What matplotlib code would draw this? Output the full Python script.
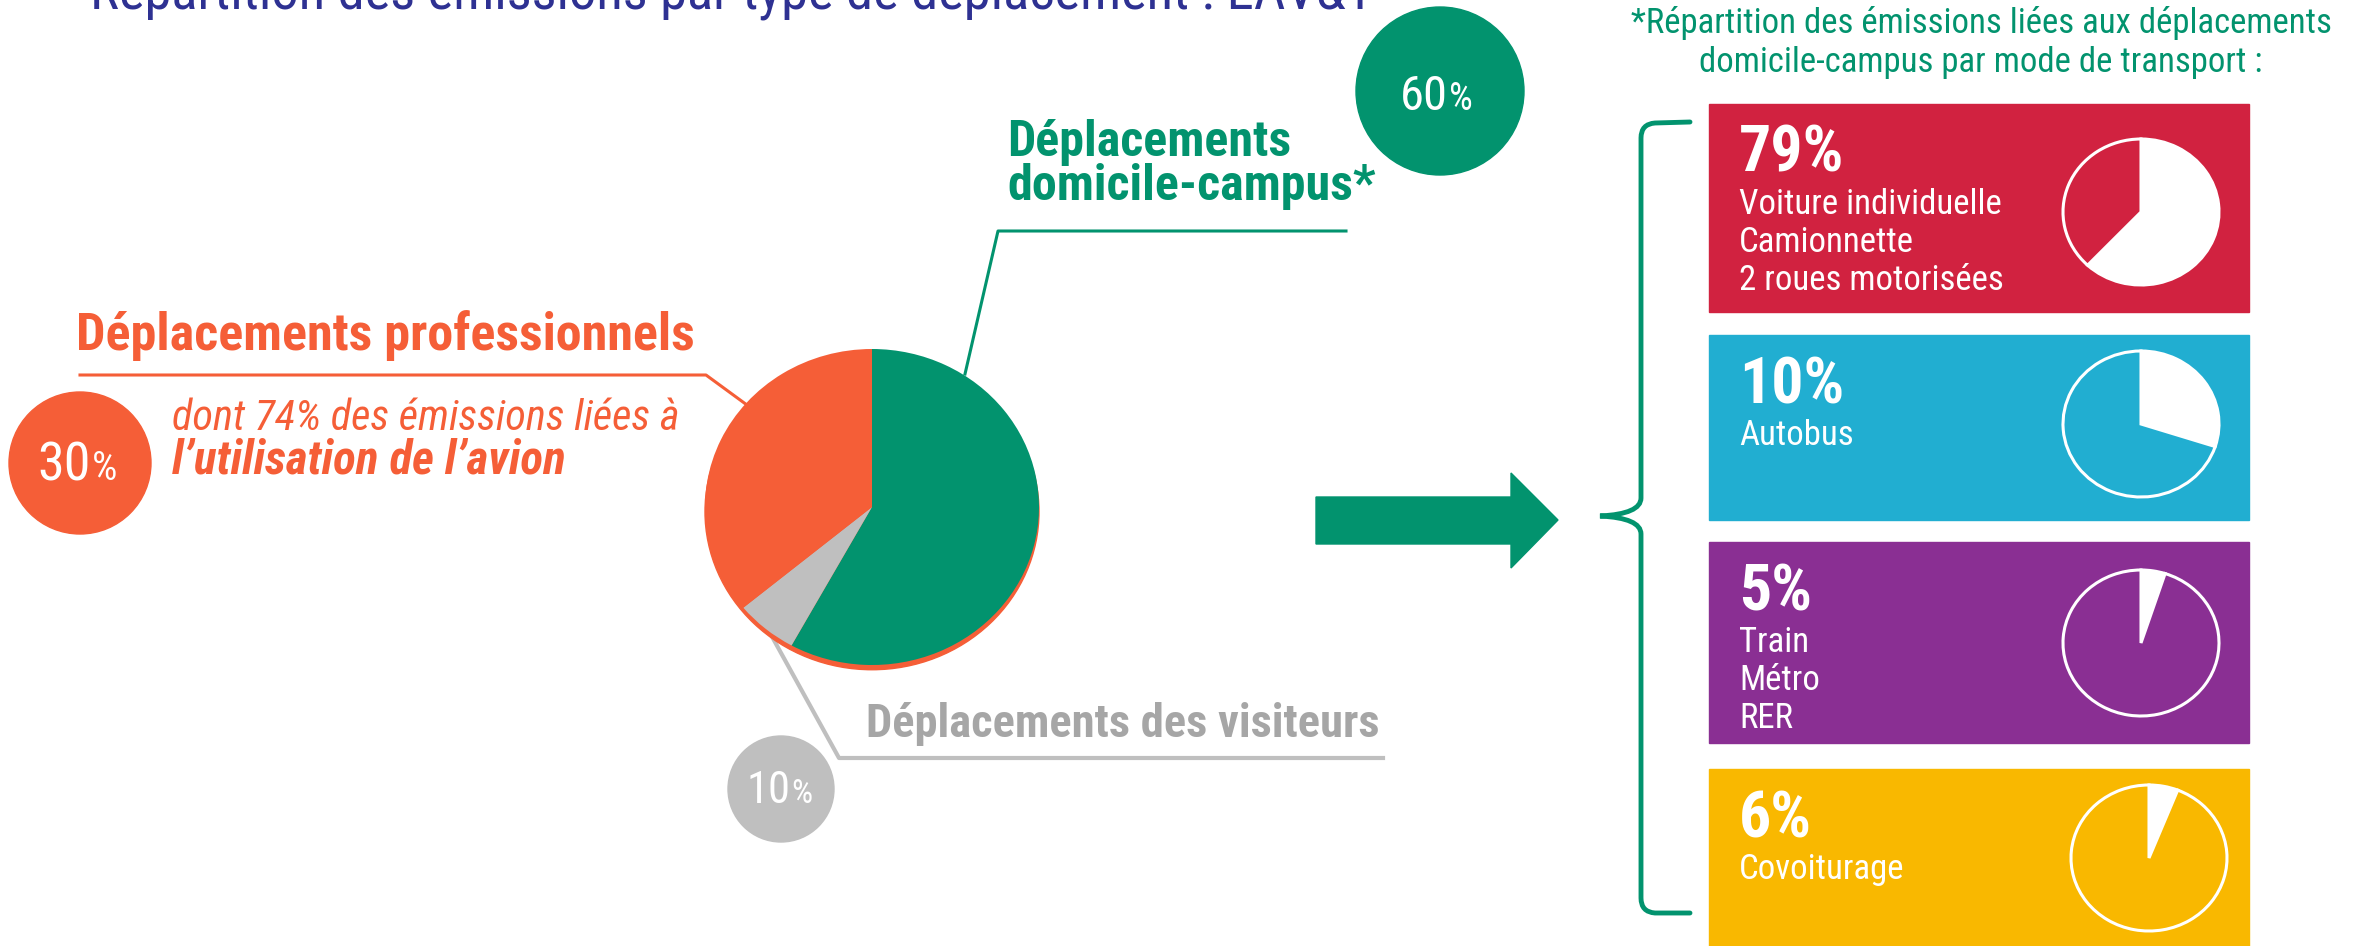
import matplotlib
matplotlib.use("Agg")
import matplotlib.pyplot as plt
from matplotlib import font_manager
from matplotlib.patches import Circle, Rectangle, Polygon, PathPatch, Ellipse
from matplotlib.path import Path

# Données
pie_shares = [58, 6, 36]   # domicile-campus, visiteurs, professionnels (angles du camembert)
main_pcts = [60, 30, 10]
main_labels = ['Déplacements\ndomicile-campus*', 'Déplacements professionnels', 'Déplacements des visiteurs']
avion_note = ['dont 74% des émissions liées à', 'l’utilisation de l’avion']

mode_pcts = ['79%', '10%', '5%', '6%']
mode_labels = ['Voiture individuelle\nCamionnette\n2 roues motorisées', 'Autobus', 'Train\nMétro\nRER', 'Covoiturage']
icon_shares = [0.62, 0.30, 0.05, 0.06]   # part blanche des petits camemberts

title = 'Répartition des émissions par type de déplacement : EAV&T'
subtitle = '*Répartition des émissions liées aux déplacements\ndomicile-campus par mode de transport :'

# Couleurs
navy = '#2E3192'
green = '#02936E'
orange = '#F55E37'
grey = '#BFBFBF'
grey_txt = '#A6A6A6'
mode_colors = ['#D12240', '#21AED1', '#8A2F93', '#F9B800']
pie_colors = [green, grey, orange]

# Police étroite si disponible
names = {f.name for f in font_manager.fontManager.ttflist}
narrow = 'DejaVu Sans'
for n in ['Liberation Sans Narrow', 'Roboto Condensed', 'Open Sans Condensed', 'Liberation Sans']:
    if n in names:
        narrow = n
        break

W, H = 2364, 946
fig = plt.figure(figsize=(W / 100, H / 100), dpi=100)
ax = fig.add_axes([0, 0, 1, 1])
ax.set_xlim(0, W)
ax.set_ylim(H, 0)
ax.axis('off')


def px_axes(cx, cy, rx, ry):
    return fig.add_axes([(cx - rx) / W, 1 - (cy + ry) / H, 2 * rx / W, 2 * ry / H])


def txt(x, y, s, size, color, **kw):
    return ax.text(x, y, s, fontsize=size, color=color, family=narrow, va='baseline', **kw)


# Titre (coupé en haut, comme sur l'original)
txt(90, 9, title, 39.3, navy)

# Camembert principal
pax = px_axes(872, 507, 167 * 1.06, 158 * 1.06)
pax.add_patch(Ellipse((0, -0.03), 2, 2, color=orange, zorder=0))
pax.pie(pie_shares, colors=pie_colors, startangle=90, counterclock=False)
pax.set_aspect('auto')
pax.set_xlim(-1.06, 1.06)
pax.set_ylim(-1.06, 1.06)

# Traits de rappel
ax.plot([965, 998, 1346], [374, 231, 231], color=green, lw=2.2)
ax.plot([80, 706, 747], [375, 375, 405], color=orange, lw=2.2)
ax.plot([770, 839, 1383], [633, 758, 758], color=grey, lw=3)

# Libellés (le bloc vert est un seul texte sur deux lignes, base de la 2e ligne à 200)
txt(1007, 200, main_labels[0], 36, green, weight='bold', linespacing=0.92)
txt(76, 350, main_labels[1], 37.5, orange, weight='bold')
txt(866, 737, main_labels[2], 33.5, grey_txt, weight='bold')
txt(172, 430, avion_note[0], 30.5, orange, style='italic')
txt(172, 473, avion_note[1], 34, orange, style='italic', weight='bold')

# Bulles de pourcentage
bubbles = [(1440, 91, 84, green, 1448, 110, 35, 27),
           (80, 463, 71, orange, 91, 480, 39, 29),
           (781, 789, 53, grey, 790, 803, 32, 24)]
for pct, (cx, cy, r, c, sx, by, s1, s2) in zip(main_pcts, bubbles):
    ax.add_patch(Circle((cx, cy), r, color=c))
    txt(sx, by, str(pct), s1, 'white', ha='right')
    txt(sx + 1, by, '%', s2, 'white', ha='left')

# Flèche
ax.add_patch(Polygon([(1316, 497), (1511, 497), (1511, 473), (1558, 520),
                      (1511, 568), (1511, 544), (1316, 544)], color=green))

# Accolade
verts = [(1690, 122), (1655, 123), (1641, 124), (1641, 138), (1641, 498),
         (1641, 514), (1600, 516), (1641, 518), (1641, 534), (1641, 898),
         (1641, 912), (1655, 913), (1690, 913)]
codes = [Path.MOVETO, Path.LINETO, Path.CURVE3, Path.CURVE3, Path.LINETO,
         Path.CURVE3, Path.CURVE3, Path.CURVE3, Path.CURVE3, Path.LINETO,
         Path.CURVE3, Path.CURVE3, Path.LINETO]
ax.add_patch(PathPatch(Path(verts, codes), fill=False, ec=green, lw=3.5, capstyle='round'))

# Sous-titre à droite (deux lignes centrées)
for k, line in enumerate(subtitle.split('\n')):
    txt(1981, 33 + 39 * k, line, 25, green, ha='center')

# Encadrés par mode de transport
box_tops = [104, 335, 542, 769]
box_bottoms = [312, 520, 743, 960]
icon_centers = [(2141, 212), (2141, 424), (2141, 643), (2149, 858)]
for i in range(4):
    top, bot = box_tops[i], box_bottoms[i]
    ax.add_patch(Rectangle((1709, top), 540, bot - top, color=mode_colors[i]))
    py = top + 68
    txt(1739, py, mode_pcts[i], 46, 'white', weight='bold')
    for j, line in enumerate(mode_labels[i].split('\n')):
        txt(1739, py + 42 + 38 * j, line, 25, 'white')
    cx, cy = icon_centers[i]
    iax = px_axes(cx, cy, 78 / 0.95, 73 / 0.95)
    iax.pie([icon_shares[i], 1 - icon_shares[i]], colors=['white', mode_colors[i]],
            startangle=90, counterclock=False, radius=0.95,
            wedgeprops=dict(edgecolor='white', linewidth=2.2))
    iax.set_aspect('auto')
    iax.set_xlim(-1, 1)
    iax.set_ylim(-1, 1)

fig.savefig('out.png', dpi=100)
